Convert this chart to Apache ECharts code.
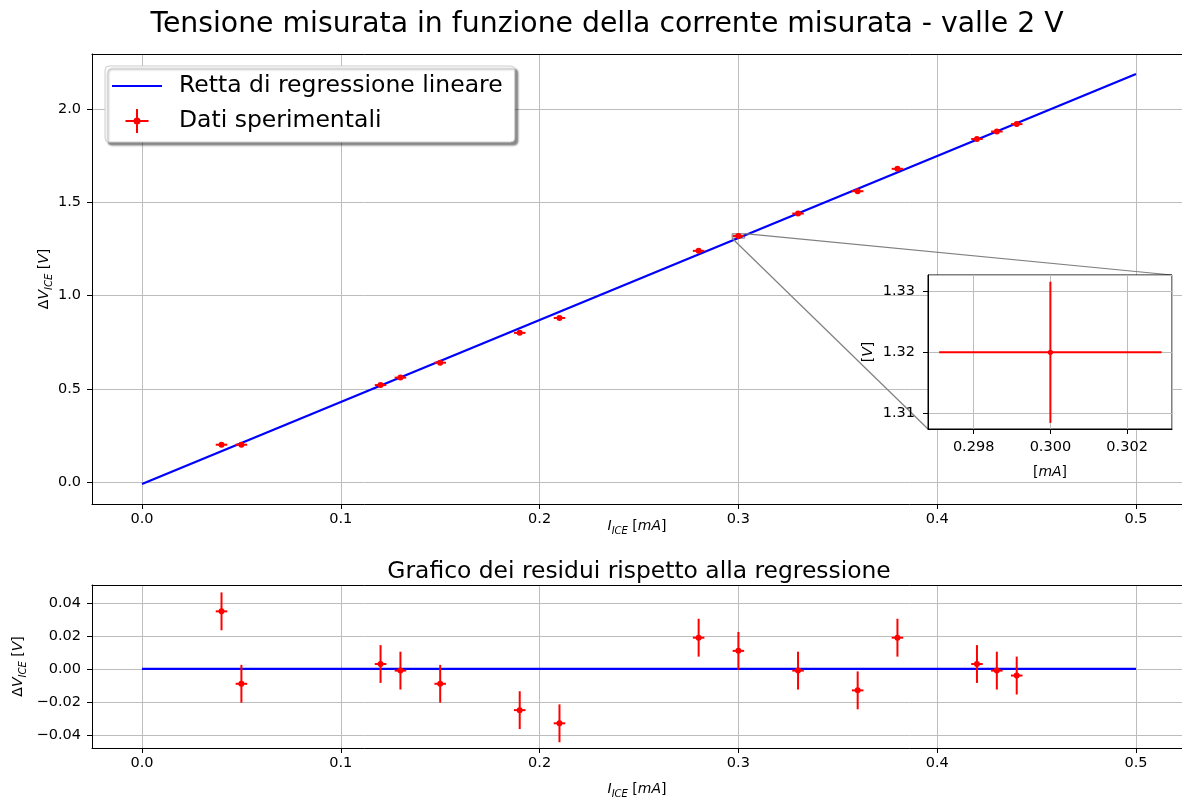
<!DOCTYPE html>
<html><head><meta charset="utf-8">
<script src="https://cdn.jsdelivr.net/npm/echarts@6/dist/echarts.min.js"></script>
<style>html,body{margin:0;padding:0;background:#fff}#c{width:1182px;height:800px}</style>
</head><body><div id="c"></div>
<script>
// ---- data ----
const titleMain = 'Tensione misurata in funzione della corrente misurata - valle 2 V';
const titleRes = 'Grafico dei residui rispetto alla regressione';
const legendNames = ['Retta di regressione lineare', 'Dati sperimentali'];
const currentX = [0.04, 0.05, 0.12, 0.13, 0.15, 0.19, 0.21, 0.28, 0.30, 0.33, 0.36, 0.38, 0.42, 0.43, 0.44];
const voltageY = [0.20, 0.20, 0.52, 0.56, 0.64, 0.80, 0.88, 1.24, 1.32, 1.44, 1.56, 1.68, 1.84, 1.88, 1.92];
const residualY = [0.035, -0.009, 0.003, -0.001, -0.009, -0.025, -0.033, 0.019, 0.011, -0.001, -0.013, 0.019, 0.003, -0.001, -0.004];
const xErr = [0.0029, 0.0029, 0.0029, 0.0029, 0.0029, 0.0029, 0.0029, 0.0029, 0.0029, 0.0029, 0.0029, 0.0029, 0.0029, 0.0029, 0.0029];
const yErr = [0.0115, 0.0115, 0.0115, 0.0115, 0.0115, 0.0115, 0.0115, 0.0115, 0.0115, 0.0115, 0.0115, 0.0115, 0.0115, 0.0115, 0.0115];
const fitX = [0, 0.5];
const fitY = [-0.011, 2.189];
const zeroX = [0, 0.5];
const zeroY = [0, 0];
const mainXRange = [-0.02515, 0.52314];
const mainYRange = [-0.118, 2.296];
const resYRange = [-0.048, 0.051];
const insetXRange = [0.29681, 0.30317];
const insetYRange = [1.3075, 1.3326];

// ---- helpers ----
const FONT = 'DejaVu Sans';
const fmt = d => v => { const s = Number(v).toFixed(d); return s.charAt(0) === '-' ? '\u2212' + s.slice(1) : s; };
const pts = (xs, ys) => xs.map((x, i) => [x, ys[i]]);
const GRID = '#bdbdbd';

const nameRich = {
  n: { fontFamily: FONT, fontSize: 14, color: '#000', lineHeight: 20 },
  i: { fontFamily: FONT, fontSize: 14, fontStyle: 'italic', color: '#000', lineHeight: 20 },
  s: { fontFamily: FONT, fontSize: 10, fontStyle: 'italic', color: '#000', lineHeight: 10, verticalAlign: 'bottom' }
};
const nameStyle = { fontFamily: FONT, fontSize: 14, color: '#000', lineHeight: 20, rich: nameRich };

function valAxis(opts) {
  return Object.assign({
    type: 'value',
    scale: true,
    axisLine: { show: true, onZero: false, lineStyle: { color: '#000', width: 1 } },
    axisTick: { show: true, inside: false, length: 5, lineStyle: { color: '#000', width: 1 } },
    splitLine: { show: true, lineStyle: { color: GRID, width: 1 } },
    nameLocation: 'middle',
    nameMoveOverlap: false,
    nameTextStyle: nameStyle
  }, opts);
}
function spineAxis(gridIndex, range) {
  return { type: 'value', gridIndex: gridIndex, position: 'top', min: range[0], max: range[1],
    axisLine: { show: true, onZero: false, lineStyle: { color: '#000', width: 1 } },
    axisTick: { show: false }, axisLabel: { show: false }, splitLine: { show: false } };
}
function labels(d, margin, size) {
  return { show: true, formatter: fmt(d), margin: margin, showMinLabel: false, showMaxLabel: false,
           fontFamily: FONT, fontSize: size || 14.5, color: '#000' };
}

function errRender(r) {
  return function (params, api) {
    const i = params.dataIndex;
    const x = api.value(0), y = api.value(1);
    const c = api.coord([x, y]);
    const l = api.coord([x - xErr[i], y]), rr = api.coord([x + xErr[i], y]);
    const t = api.coord([x, y + yErr[i]]), b = api.coord([x, y - yErr[i]]);
    const st = { stroke: '#ff0000', lineWidth: 2 };
    return { type: 'group', children: [
      { type: 'line', shape: { x1: l[0], y1: l[1], x2: rr[0], y2: rr[1] }, style: st },
      { type: 'line', shape: { x1: t[0], y1: t[1], x2: b[0], y2: b[1] }, style: st },
      { type: 'circle', shape: { cx: c[0], cy: c[1], r: r }, style: { fill: '#ff0000' } }
    ] };
  };
}

const chart = echarts.init(document.getElementById('c'), null, { renderer: 'canvas' });

const option = {
  backgroundColor: '#fff',
  animation: false,
  title: [
    { text: titleMain, left: 602, top: 6, textAlign: 'center',
      textStyle: { fontFamily: FONT, fontSize: 28.3, fontWeight: 'normal', color: '#000' } },
    { text: titleRes, left: 634, top: 555, textAlign: 'center',
      textStyle: { fontFamily: FONT, fontSize: 23.4, fontWeight: 'normal', color: '#000' } }
  ],
  legend: {
    orient: 'vertical', left: 105, top: 66,
    padding: [8, 12, 9, 7],
    itemWidth: 50, itemHeight: 24, itemGap: 11,
    symbolKeepAspect: true,
    backgroundColor: '#fff', borderColor: '#cccccc', borderWidth: 1, borderRadius: 4,
    shadowColor: 'rgba(0,0,0,0.45)', shadowBlur: 2, shadowOffsetX: 3, shadowOffsetY: 3,
    textStyle: { fontFamily: FONT, fontSize: 23.5, color: '#000', padding: [0, 0, 0, 12] },
    data: [
      { name: legendNames[0], icon: 'path://M0,0 H50 V2.2 H0 Z' },
      { name: legendNames[1], icon: 'path://M10.5,0 H12.5 V24 H10.5 Z M0,11 H23 V13 H0 Z M15,12 A3.5,3.5 0 1,1 8,12 A3.5,3.5 0 1,1 15,12 Z' }
    ]
  },
  grid: [
    { left: 92, top: 54, width: 1090, height: 450, show: false, outerBoundsMode: 'none', containLabel: false },
    { left: 92, top: 585, width: 1090, height: 163, show: false, outerBoundsMode: 'none', containLabel: false },
    { left: 928, top: 275, width: 244, height: 154, show: true, borderColor: '#000', borderWidth: 1, backgroundColor: '#fff', z: 10, outerBoundsMode: 'none', containLabel: false }
  ],
  xAxis: [
    valAxis({ gridIndex: 0, min: mainXRange[0], max: mainXRange[1], splitNumber: 5, minInterval: 0.1, maxInterval: 0.1,
      axisLabel: labels(1, 8), name: '{i|I}{s|ICE} [{i|mA}]', nameGap: 12 }),
    valAxis({ gridIndex: 1, min: mainXRange[0], max: mainXRange[1], splitNumber: 5, minInterval: 0.1, maxInterval: 0.1,
      axisLabel: labels(1, 8), name: '{i|I}{s|ICE} [{i|mA}]', nameGap: 31 }),
    valAxis({ gridIndex: 2, min: insetXRange[0], max: insetXRange[1], splitNumber: 3, minInterval: 0.002, maxInterval: 0.002,
      axisLabel: labels(3, 11, 14.5), name: '[{i|mA}]', nameGap: 33, z: 10 }),
    spineAxis(0, mainXRange),
    spineAxis(1, mainXRange)
  ],
  yAxis: [
    valAxis({ gridIndex: 0, min: mainYRange[0], max: mainYRange[1], splitNumber: 5, minInterval: 0.5, maxInterval: 0.5,
      axisLabel: labels(1, 11), name: '{n|Δ}{i|V}{s|ICE} [{i|V}]', nameGap: 38 }),
    valAxis({ gridIndex: 1, min: resYRange[0], max: resYRange[1], splitNumber: 5, minInterval: 0.02, maxInterval: 0.02,
      axisLabel: labels(2, 11), name: '{n|Δ}{i|V}{s|ICE} [{i|V}]', nameGap: 64 }),
    valAxis({ gridIndex: 2, min: insetYRange[0], max: insetYRange[1], splitNumber: 3, minInterval: 0.01, maxInterval: 0.01,
      axisLabel: labels(2, 13, 14.5), name: '[{i|V}]', nameGap: 50, z: 10 })
  ],
  series: [
    { name: legendNames[0], type: 'line', xAxisIndex: 0, yAxisIndex: 0, data: pts(fitX, fitY),
      showSymbol: false, symbol: 'none', color: '#0000ff', lineStyle: { color: '#0000ff', width: 2.3 }, z: 2 },
    { name: legendNames[1], type: 'custom', xAxisIndex: 0, yAxisIndex: 0, data: pts(currentX, voltageY),
      renderItem: errRender(3), itemStyle: { color: '#ff0000' }, clip: true, z: 3 },
    { name: 'zero', type: 'line', xAxisIndex: 1, yAxisIndex: 1, data: pts(zeroX, zeroY),
      showSymbol: false, symbol: 'none', lineStyle: { color: '#0000ff', width: 2.3 }, z: 2 },
    { name: 'res', type: 'custom', xAxisIndex: 1, yAxisIndex: 1, data: pts(currentX, residualY),
      renderItem: errRender(3), itemStyle: { color: '#ff0000' }, clip: true, z: 3 },
    { name: 'inset', type: 'custom', xAxisIndex: 2, yAxisIndex: 2, data: pts(currentX, voltageY),
      renderItem: errRender(2.6), itemStyle: { color: '#ff0000' }, clip: true, z: 12 }
  ]
};
chart.setOption(option);

// zoom indicator + connectors, positioned through the axes' own scales
const pMain = (x, y) => chart.convertToPixel({ gridIndex: 0 }, [x, y]);
const pIn = (x, y) => chart.convertToPixel({ gridIndex: 2 }, [x, y]);
const rBL = pMain(insetXRange[0], insetYRange[0]);
const rTR = pMain(insetXRange[1], insetYRange[1]);
const iBL = pIn(insetXRange[0], insetYRange[0]);
const iTR = pIn(insetXRange[1], insetYRange[1]);
chart.setOption({
  graphic: [
    { type: 'rect', z: 1, shape: { x: rBL[0], y: rTR[1], width: rTR[0] - rBL[0], height: rBL[1] - rTR[1] },
      style: { fill: 'rgba(128,128,128,0.35)', stroke: 'rgba(128,128,128,0.8)', lineWidth: 1 } },
    { type: 'line', z: 5, shape: { x1: rTR[0], y1: rTR[1], x2: iTR[0], y2: iTR[1] },
      style: { stroke: '#808080', lineWidth: 1.2 } },
    { type: 'line', z: 5, shape: { x1: rBL[0], y1: rBL[1], x2: iBL[0], y2: iBL[1] },
      style: { stroke: '#808080', lineWidth: 1.2 } }
  ]
});
</script></body></html>
